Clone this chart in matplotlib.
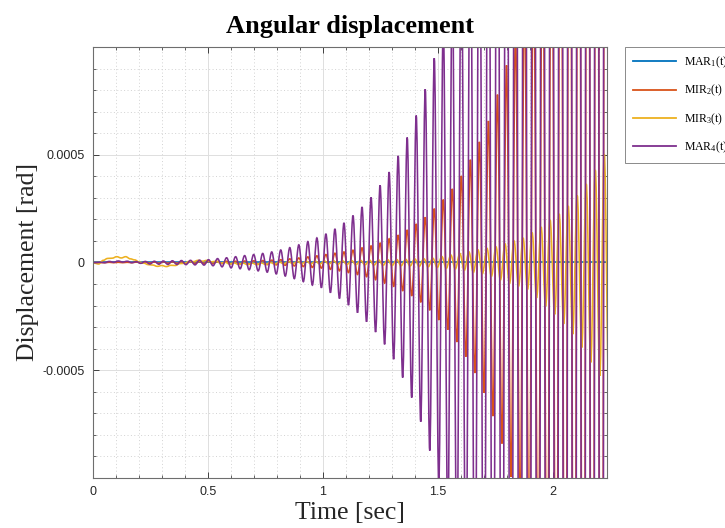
import numpy as np
import matplotlib
matplotlib.use("Agg")
import matplotlib.pyplot as plt
from matplotlib.path import Path
from matplotlib.patches import PathPatch
from matplotlib.lines import Line2D
from matplotlib.ticker import FixedLocator, FixedFormatter, MultipleLocator

plt.rcParams['font.family'] = ['Liberation Sans', 'DejaVu Sans']
plt.rcParams['mathtext.fontset'] = 'custom'
plt.rcParams['mathtext.rm'] = 'Liberation Serif'
plt.rcParams['mathtext.it'] = 'Liberation Serif:italic'
plt.rcParams['axes.unicode_minus'] = False

# Successive extremes of each response (units of 1e-4 rad), one value per half period
HALF_PERIOD = 0.01963          # s
T0_MAIN = 0.0115               # time of first extreme, MAR/MIR2 (s)
T0_MIR3 = 0.0049               # time of first extreme, MIR3 (s)
SCALE = 1e-4

mar4 = [
    -0.01, 0.01, -0.01, 0.05, 0.01, 0.07, 0.02, 0.06, -0.01, 0.04,
    -0.04, 0.05, -0.07, 0.06, -0.08, 0.07, -0.09, 0.08, -0.09, 0.09,
    -0.10, 0.10, -0.11, 0.11, -0.12, 0.13, -0.15, 0.18, -0.20, 0.22,
    -0.25, 0.27, -0.29, 0.32, -0.34, 0.37, -0.39, 0.42, -0.45, 0.49,
    -0.53, 0.58, -0.63, 0.69, -0.75, 0.82, -0.89, 0.97, -1.05, 1.14,
    -1.17, 1.33, -1.40, 1.56, -1.67, 1.84, -1.98, 2.18, -2.33, 2.58,
    -2.75, 3.02, -3.23, 3.58, -3.80, 4.20, -4.49, 4.95, -5.34, 5.80,
    -6.27, 6.82, -7.39, 8.04, -8.73, 9.48, -10.3, 11.2, -12.1, 13.1,
    -14.2, 15.4, -16.7, 18.1, -19.6, 21.3, -23.1, 25.0, -27.1, 29.4,
    -31.9, 34.5, -37.4, 40.6, -44.0, 47.7, -51.7, 56.0, -60.7, 65.8,
    -71.3, 77.3, -83.8, 90.8, -98.4, 107.0, -116.0, 126.0, -136.0, 148.0,
    -160.0, 174.0, -188.0, 204.0, -221.0,
]

mir2 = [
    0.00, 0.00, -0.01, 0.01, -0.01, 0.01, -0.01, 0.01, -0.01, 0.02,
    -0.02, 0.02, -0.02, 0.02, -0.03, 0.03, -0.03, 0.03, -0.03, 0.03,
    -0.04, 0.04, -0.04, 0.04, -0.04, 0.05, -0.05, 0.05, -0.05, 0.06,
    -0.06, 0.06, -0.07, 0.07, -0.08, 0.08, -0.09, 0.09, -0.10, 0.11,
    -0.11, 0.13, -0.13, 0.17, -0.16, 0.21, -0.19, 0.26, -0.23, 0.31,
    -0.26, 0.37, -0.32, 0.43, -0.39, 0.49, -0.47, 0.57, -0.56, 0.68,
    -0.66, 0.77, -0.80, 0.90, -0.96, 1.10, -1.12, 1.27, -1.32, 1.51,
    -1.55, 1.79, -1.85, 2.10, -2.22, 2.50, -2.67, 2.92, -3.12, 3.42,
    -3.69, 4.02, -4.37, 4.77, -5.13, 5.60, -6.05, 6.57, -7.13, 7.79,
    -8.40, 9.15, -9.95, 10.8, -11.7, 12.7, -13.8, 15.0, -16.3, 17.7,
    -19.2, 20.9, -22.7, 24.7, -26.8, 29.1, -31.6, 34.4, -37.4, 40.6,
    -44.1, 48.0, -52.1, 56.6, -61.5,
]

mir3 = [
    -0.03, -0.07, 0.10, 0.19, 0.20, 0.27, 0.21, 0.27, 0.17, 0.12,
    0.02, -0.03, -0.10, -0.12, -0.18, -0.14, -0.19, -0.13, -0.14, -0.05,
    -0.04, 0.05, 0.04, 0.10, 0.06, 0.10, 0.03, 0.06, -0.03, 0.01,
    -0.07, -0.02, -0.09, -0.03, -0.10, -0.03, -0.10, -0.02, -0.09, 0.00,
    -0.07, 0.02, -0.06, 0.04, -0.05, 0.05, -0.05, 0.06, -0.06, 0.06,
    -0.07, 0.07, -0.07, 0.08, -0.08, 0.08, -0.09, 0.09, -0.10, 0.10,
    -0.11, 0.11, -0.12, 0.12, -0.13, 0.13, -0.14, 0.14, -0.15, 0.15,
    -0.16, 0.17, -0.18, 0.18, -0.20, 0.20, -0.23, 0.28, -0.27, 0.35,
    -0.30, 0.42, -0.36, 0.50, -0.46, 0.59, -0.52, 0.66, -0.64, 0.73,
    -0.81, 0.87, -0.98, 1.00, -1.10, 1.14, -1.25, 1.39, -1.64, 1.65,
    -2.02, 1.97, -2.41, 2.26, -2.85, 2.63, -3.33, 3.11, -3.95, 3.65,
    -4.64, 4.30, -5.26, 5.03, -6.00,
]

# MAR1 stays on the zero line
mar1_t = [0.0, 0.5, 1.0, 1.5, 2.0, 2.25]
mar1 = [0.0, 0.0, 0.0, 0.0, 0.0, 0.0]

labels = ['MAR$_{1}$(t)', 'MIR$_{2}$(t)', 'MIR$_{3}$(t)', 'MAR$_{4}$(t)']
colors = ['#0072BD', '#D95319', '#EDB120', '#7E2F8E']

x_ticks = [0, 0.5, 1, 1.5, 2]
x_tick_labels = ['0', '0.5', '1', '1.5', '2']
y_ticks = [-0.0005, 0, 0.0005]
y_tick_labels = ['-0.0005', '0', '0.0005']


def series(t0, vals):
    t = np.concatenate([[0.0], t0 + HALF_PERIOD * np.arange(len(vals))])
    v = np.concatenate([[0.0], np.asarray(vals)]) * SCALE
    return t, v


def smooth_path(t, v, c=0.363):
    """Cubic Bezier path through the extremes with flat tangents at each one."""
    verts = [(t[0], v[0])]
    codes = [Path.MOVETO]
    for i in range(1, len(t)):
        dt = t[i] - t[i - 1]
        verts += [(t[i - 1] + c * dt, v[i - 1]), (t[i] - c * dt, v[i]), (t[i], v[i])]
        codes += [Path.CURVE4] * 3
    return Path(verts, codes)


fig = plt.figure(figsize=(7.25, 5.28), dpi=100)
ax = fig.add_axes([0.1283, 0.0947, 0.7090, 0.8163])

lw = 1.15
t1, v1 = np.asarray(mar1_t), np.asarray(mar1) * SCALE
ax.plot(t1, v1, color=colors[0], lw=lw, zorder=2.0)
series_list = [(T0_MAIN, mir2), (T0_MIR3, mir3), (T0_MAIN, mar4)]
for i, ((t0, vals), col) in enumerate(zip(series_list, colors[1:])):
    t, v = series(t0, vals)
    ax.add_patch(PathPatch(smooth_path(t, v), fill=False, edgecolor=col, lw=lw,
                           zorder=2.1 + 0.1 * i))

ax.set_xlim(0, 2.235)
ax.set_ylim(-0.001, 0.001)

ax.xaxis.set_major_locator(FixedLocator(x_ticks))
ax.xaxis.set_major_formatter(FixedFormatter(x_tick_labels))
ax.yaxis.set_major_locator(FixedLocator(y_ticks))
ax.yaxis.set_major_formatter(FixedFormatter(y_tick_labels))
ax.xaxis.set_minor_locator(MultipleLocator(0.1))
ax.yaxis.set_minor_locator(MultipleLocator(0.0001))

ax.grid(which='major', color='#dedede', lw=0.7, ls='-')
ax.grid(which='minor', color='#d2d2d2', lw=0.7, ls=(0, (1, 2.5)))
ax.set_axisbelow(True)

ax.tick_params(which='both', direction='in', top=True, right=True,
               colors='#262626', labelcolor='#262626')
ax.tick_params(which='major', length=4.5, width=0.6, labelsize=9, pad=6)
ax.tick_params(which='minor', length=2.2, width=0.5)
for s in ax.spines.values():
    s.set_color('#6e6e6e')
    s.set_linewidth(0.8)
    s.set_zorder(3)

serif = ['Liberation Serif', 'DejaVu Serif']
fig.text(0.483, 1 - 33 / 528, 'Angular displacement', ha='center', va='baseline',
         fontsize=19, fontweight='bold', family=serif)
ax.set_xlabel('Time [sec]', fontsize=18.5, family=serif, color='#262626')
ax.xaxis.set_label_coords(0.5, -0.056)
ax.set_ylabel('Displacement [rad]', fontsize=18.5, family=serif, color='#262626')
ax.yaxis.set_label_coords(-0.106, 0.5)

handles = [Line2D([], [], color=c, lw=1.3) for c in colors]
leg = fig.legend(handles, labels, loc='upper left',
                 bbox_to_anchor=(625 / 725, 1 - 47 / 528),
                 prop={'family': serif, 'size': 8.5}, frameon=True, fancybox=False,
                 handlelength=3.64, handletextpad=0.68, labelspacing=1.09,
                 borderpad=0.66, borderaxespad=0)
leg.get_frame().set_edgecolor('#555555')
leg.get_frame().set_linewidth(0.6)

fig.savefig('out.png', dpi=100, facecolor='white')
